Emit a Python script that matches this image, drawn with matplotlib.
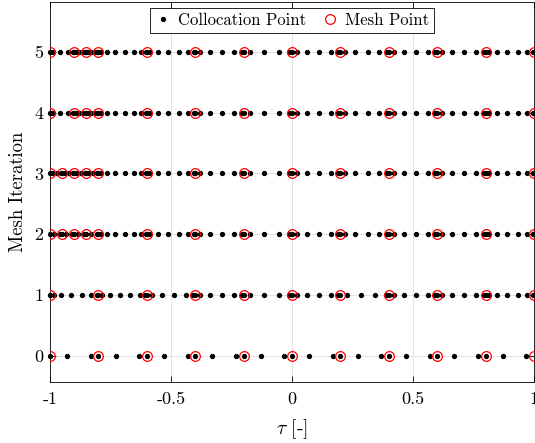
import numpy as np
import matplotlib
matplotlib.use("Agg")
import matplotlib.pyplot as plt
from matplotlib.lines import Line2D

plt.rcParams['font.family'] = 'serif'
plt.rcParams['font.serif'] = ['cmr10', 'DejaVu Serif']
plt.rcParams['mathtext.fontset'] = 'cm'
plt.rcParams['axes.unicode_minus'] = False

# Legendre-Gauss-Radau node fractions on [0, 1] for N points per interval
lgr_fracs = {
    3: [0.0, 0.35505, 0.84495],
    4: [0.0, 0.21234, 0.59053, 0.91141],
    5: [0.0, 0.13976, 0.41641, 0.72316, 0.94290],
    6: [0.0, 0.09854, 0.30454, 0.56203, 0.80199, 0.96019],
    7: [0.0, 0.07305, 0.23072, 0.44133, 0.66302, 0.85192, 0.97068],
    8: [0.0, 0.05626, 0.18024, 0.35263, 0.54715, 0.73421, 0.88532, 0.97752],
}

# Mesh points per iteration
mesh_0 = [-1.0, -0.8, -0.6, -0.4, -0.2, 0.0, 0.2, 0.4, 0.6, 0.8, 1.0]
mesh_1 = [-1.0, -0.8, -0.6, -0.4, -0.2, 0.0, 0.2, 0.4, 0.6, 0.8, 1.0]
mesh_2 = [-1.0, -0.95, -0.9, -0.85, -0.8, -0.6, -0.4, -0.2, 0.0, 0.2, 0.4, 0.6, 0.8, 1.0]
mesh_3 = [-1.0, -0.95, -0.9, -0.85, -0.8, -0.6, -0.4, -0.2, 0.0, 0.2, 0.4, 0.6, 0.8, 1.0]
mesh_4 = [-1.0, -0.9, -0.85, -0.8, -0.6, -0.4, -0.2, 0.0, 0.2, 0.4, 0.6, 0.8, 1.0]
mesh_5 = [-1.0, -0.9, -0.85, -0.8, -0.6, -0.4, -0.2, 0.0, 0.2, 0.4, 0.6, 0.8, 1.0]

# Collocation points per interval
deg_0 = [3, 3, 3, 3, 3, 3, 3, 3, 3, 3]
deg_1 = [7, 7, 6, 6, 5, 6, 5, 6, 6, 7]
deg_2 = [3, 3, 3, 3, 8, 7, 6, 5, 6, 6, 6, 6, 7]
deg_3 = [4, 4, 4, 4, 8, 7, 6, 5, 6, 6, 6, 6, 7]
deg_4 = [5, 5, 5, 8, 7, 6, 5, 6, 6, 6, 6, 7]
deg_5 = [5, 5, 5, 8, 7, 6, 5, 6, 6, 6, 6, 7]

meshes = [mesh_0, mesh_1, mesh_2, mesh_3, mesh_4, mesh_5]
degrees = [deg_0, deg_1, deg_2, deg_3, deg_4, deg_5]

xticks = [-1, -0.5, 0, 0.5, 1]
xticklabels = ['-1', '-0.5', '0', '0.5', '1']
yticks = [0, 1, 2, 3, 4, 5]

DOT_MS = 2.8
RING_MS = 7.0

fig = plt.figure(figsize=(5.35, 4.43), dpi=100)
ax = fig.add_axes([50/535, 1-382/443, 484/535, 380/443])

for it, (mesh, deg) in enumerate(zip(meshes, degrees)):
    colloc = []
    for k, n in enumerate(deg):
        a, b = mesh[k], mesh[k+1]
        colloc.extend(a + f*(b-a) for f in lgr_fracs[n])
    colloc = np.array(colloc)
    ax.plot(colloc, np.full_like(colloc, it), linestyle='none', marker='o',
            markersize=DOT_MS, markerfacecolor='k', markeredgecolor='k', zorder=3,
            clip_on=False)
    m = np.array(mesh)
    ax.plot(m, np.full_like(m, it), linestyle='none', marker='o',
            markersize=RING_MS, markerfacecolor='none', markeredgecolor='red',
            markeredgewidth=0.9, zorder=4, clip_on=True)

ax.set_xlim(-1, 1)
ax.set_ylim(-0.43, 5.82)
ax.set_xticks(xticks)
ax.set_xticklabels(xticklabels)
ax.set_yticks(yticks)
ax.grid(True, color='#e3e3e3', linewidth=0.7)
ax.set_axisbelow(True)
ax.tick_params(direction='in', top=True, right=True, labelsize=13, length=4, width=0.6)
ax.tick_params(axis='x', pad=7)
ax.tick_params(axis='y', pad=5)
for s in ax.spines.values():
    s.set_linewidth(0.6)
ax.set_xlabel(r'$\tau$ [-]', fontsize=14, labelpad=7)
ax.set_ylabel('Mesh Iteration', fontsize=13.5, labelpad=5)

handles = [
    Line2D([], [], linestyle='none', marker='o', markersize=DOT_MS, markerfacecolor='k', markeredgecolor='k'),
    Line2D([], [], linestyle='none', marker='o', markersize=RING_MS, markerfacecolor='none', markeredgecolor='red', markeredgewidth=0.9),
]
leg = ax.legend(handles, ['Collocation Point', 'Mesh Point'], loc='upper center', ncol=2,
                fontsize=12, frameon=True, fancybox=False, framealpha=1, edgecolor='k',
                borderpad=0.3, handletextpad=0.4, columnspacing=0.9, handlelength=1.0,
                borderaxespad=0.35)
leg.get_frame().set_linewidth(0.6)

fig.savefig('out.png', dpi=100)
